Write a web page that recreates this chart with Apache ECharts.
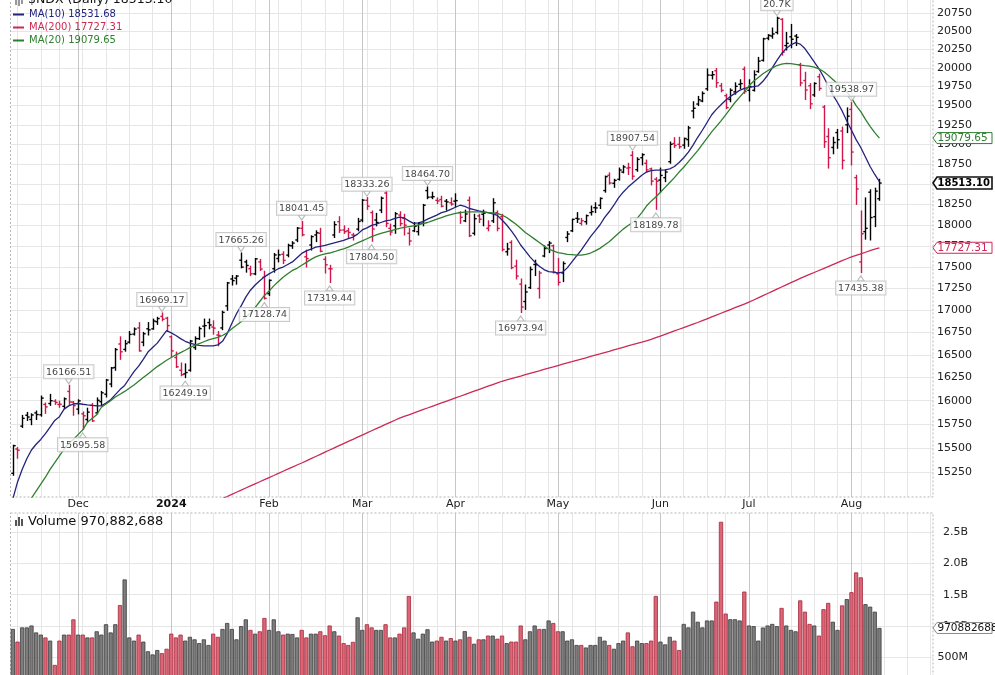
<!DOCTYPE html>
<html>
<head>
<meta charset="utf-8">
<title>$NDX (Daily)</title>
<script src="https://cdn.jsdelivr.net/npm/echarts@6.0.0/dist/echarts.min.js"></script>
<style>
html,body{margin:0;padding:0;background:#ffffff;}
#chart{width:995px;height:675px;}
</style>
</head>
<body>
<div id="chart"></div>
<script>
// ---------------- DATA ----------------
// Trading days shown on the axis (the last 11 August slots are empty space on the right)
const tradingDays = [
  ['2023-11', [10,13,14,15,16,17,20,21,22,24,27,28,29,30]],
  ['2023-12', [1,4,5,6,7,8,11,12,13,14,15,18,19,20,21,22,26,27,28,29]],
  ['2024-01', [2,3,4,5,8,9,10,11,12,16,17,18,19,22,23,24,25,26,29,30,31]],
  ['2024-02', [1,2,5,6,7,8,9,12,13,14,15,16,20,21,22,23,26,27,28,29]],
  ['2024-03', [1,4,5,6,7,8,11,12,13,14,15,18,19,20,21,22,25,26,27,28]],
  ['2024-04', [1,2,3,4,5,8,9,10,11,12,15,16,17,18,19,22,23,24,25,26,29,30]],
  ['2024-05', [1,2,3,6,7,8,9,10,13,14,15,16,17,20,21,22,23,24,28,29,30,31]],
  ['2024-06', [3,4,5,6,7,10,11,12,13,14,17,18,20,21,24,25,26,27,28]],
  ['2024-07', [1,2,3,5,8,9,10,11,12,15,16,17,18,19,22,23,24,25,26,29,30,31]],
  ['2024-08', [1,2,5,6,7,8,9,12,13,14,15,16,19,20,21,22,23,26]]
];

const openPrices = [
  15240,15490,15730,15845,15800,15870,15850,15960,15970,15995,15960,15940,16100,15985,
  15910,15860,15800,15950,15870,15990,16070,16180,16360,16620,16560,16640,16730,16800,16640,16790,16790,16870,16930,16910,
  16700,16470,16330,16290,16330,16580,16680,16820,16860,16810,16720,16800,17050,17360,17370,17580,17560,17480,17420,17560,17380,
  17190,17480,17600,17650,17640,17750,17820,17960,17620,17760,17880,17900,17590,17480,17880,18040,17940,17930,17880,17950,
  18060,18300,18150,18060,18180,18390,17960,17990,18120,18080,17900,17930,17920,18020,18420,18340,18300,18310,18290,18270,
  18290,18150,18050,18300,17900,18110,18130,17960,18050,18150,18100,17680,17790,17510,17300,17100,17260,17530,17250,17630,17760,17750,
  17420,17430,17850,17930,18080,18020,18040,18150,18210,18240,18420,18610,18510,18560,18650,18700,18860,18680,18830,18760,18690,18560,
  18550,18580,18780,19010,19000,18990,19060,19430,19520,19560,19720,19900,19960,19760,19630,19580,19680,19780,19980,
  19700,19700,19950,20100,20400,20430,20480,20660,20300,20420,20430,20040,19830,19760,19640,19880,19480,19100,18960,19150,19170,19250,
  19450,18580,17560,17920,18400,18100,18320
];
const highPrices = [
  15530,15505,15843,15875,15860,15890,16050,15975,16068,16010,15995,16030,16166.51,15990,
  16010,15880,15920,15970,16030,16100,16230,16360,16570,16700,16660,16760,16800,16860,16750,16860,16900,16920,16969.17,16920,
  16710,16530,16410,16400,16660,16700,16810,16900,16900,16880,16760,16990,17320,17400,17400,17665.26,17580,17510,17600,17590,17450,
  17350,17660,17700,17680,17770,17800,17970,18041.45,17700,17870,17930,17960,17620,17520,18040,18100,17990,17960,17900,18080,
  18310,18333.26,18170,18140,18340,18416,18010,18150,18160,18130,17960,18030,18030,18250,18464.70,18400,18330,18350,18310,18330,
  18380,18160,18180,18340,18130,18130,18180,18050,18320,18170,18130,17780,17810,17580,17360,17290,17500,17580,17450,17750,17800,17760,
  17600,17560,17920,18070,18150,18080,18120,18230,18270,18330,18600,18640,18560,18700,18730,18760,18907.54,18830,18880,18800,18700,18580,
  18700,18680,19030,19085,19090,19080,19230,19550,19620,19680,19985,19950,19990,19790,19650,19720,19800,19840,20010,
  19840,19960,20140,20400,20450,20540,20690.97,20670,20480,20590,20450,20060,19940,19790,19800,19915,19500,19200,19090,19190,19220,19470,
  19538.97,18610,18170,18330,18430,18450,18560
];
const lowPrices = [
  15220,15395,15716,15790,15745,15800,15835,15865,15950,15960,15930,15915,15950,15845,
  15860,15695.58,15770,15780,15860,15950,16040,16150,16330,16450,16540,16630,16720,16540,16600,16720,16785,16840,16880,16760,
  16480,16360,16270,16249.19,16320,16560,16670,16700,16790,16730,16600,16780,17000,17290,17300,17490,17440,17400,17410,17460,17128.74,
  17170,17440,17560,17540,17620,17720,17800,17870,17500,17700,17800,17680,17430,17319.44,17850,17910,17900,17850,17820,17930,
  18040,18190,17804.50,17990,18150,17980,17880,17900,17990,17880,17760,17920,17880,17990,18320,18320,18260,18220,18180,18240,
  18220,18020,18040,17860,17880,18030,17990,17930,18030,17930,17690,17640,17480,17360,16973.94,17010,17250,17400,17140,17620,17670,17430,
  17290,17330,17800,17920,18030,18000,18010,18120,18150,18200,18400,18500,18460,18550,18640,18620,18560,18660,18740,18650,18490,18189.78,
  18400,18530,18760,18960,18950,18950,18975,19340,19500,19550,19700,19850,19740,19680,19460,19550,19650,19720,19660,
  19560,19690,19940,20090,20380,20400,20460,20170,20240,20270,20300,19760,19580,19460,19620,19700,18960,18700,18880,18950,18690,19150,
  18740,18250,17435.38,17830,17820,17980,18300
];
const closePrices = [
  15525,15478,15812,15826,15848,15852,16028,15934,16000,15982,15962,16020,15987,15947,
  15998,15839,15878,15785,16004,16085,16223,16355,16558,16533,16623,16727,16787,16543,16734,16778,16878,16906,16898,16826,
  16543,16368,16282,16305,16652,16680,16792,16826,16833,16798,16715,16976,17314,17341,17394,17499,17518,17421,17596,17476,17137,
  17344,17642,17643,17578,17755,17783,17962,17882,17600,17860,17906,17685,17526,17478,18004,17937,17920,17910,17874,18043,
  18302,18228,17951,18030,18326,18019,17916,18136,18017,17998,17808,17985,18022,18240,18339,18345,18292,18228,18280,18254,
  18296,18093,18133,17871,18076,18070,18144,17992,18270,17959,17707,17713,17493,17394,17037,17210,17471,17526,17430,17718,17783,17440,
  17321,17541,17891,18068,18073,18052,18113,18161,18207,18323,18593,18514,18546,18675,18714,18705,18598,18809,18869,18677,18537,18536,
  18608,18650,19000,18985,18970,19074,19210,19465,19576,19659,19903,19908,19800,19700,19473,19701,19753,19789,19683,
  19750,19908,20090,20392,20439,20459,20675,20211,20331,20386,20412,19798,19705,19523,19791,19725,19033,18830,19023,19059,18796,19362,
  18902,18440,17895,17960,18090,18413,18513.10
];
const ma10 = [
  14980,15150,15280,15390,15480,15540,15590,15650,15720,15790,15830,15910,15945,15965,
  15970,15962,15955,15950,15946,15945,15975,16010,16065,16120,16165,16240,16315,16375,16450,16530,16580,16630,16700,16770,
  16745,16715,16680,16650,16630,16615,16605,16600,16598,16600,16610,16650,16735,16850,16960,17050,17150,17230,17290,17340,17385,
  17420,17450,17480,17500,17530,17560,17610,17660,17690,17710,17735,17745,17755,17770,17785,17800,17815,17835,17855,17890,
  17940,17965,17995,18010,18030,18050,18060,18080,18095,18085,18050,18020,18025,18040,18070,18095,18120,18150,18165,18190,
  18215,18240,18225,18200,18185,18170,18160,18150,18135,18115,18060,18000,17930,17850,17760,17690,17620,17560,17510,17470,17445,17440,
  17430,17440,17490,17560,17630,17700,17780,17860,17930,18000,18090,18160,18240,18330,18400,18460,18510,18560,18610,18650,18668,18673,
  18673,18678,18690,18720,18770,18830,18900,18990,19090,19180,19280,19380,19450,19510,19570,19620,19660,19700,19725,
  19740,19750,19760,19820,19900,20000,20100,20190,20260,20310,20340,20320,20260,20170,20080,19990,19880,19760,19640,19540,19430,19300,
  19180,19060,18960,18840,18720,18620,18531.68
];
const ma20 = [
  14720,14780,14850,14920,14990,15060,15130,15200,15280,15350,15420,15490,15550,15590,
  15640,15690,15770,15810,15850,15930,15965,16000,16040,16070,16100,16135,16170,16210,16250,16290,16330,16370,16405,16440,
  16470,16500,16525,16550,16580,16605,16625,16645,16665,16680,16695,16715,16745,16790,16830,16870,16920,16970,17030,17100,17170,
  17220,17280,17330,17380,17420,17460,17485,17520,17555,17590,17620,17640,17655,17665,17680,17700,17715,17735,17760,17785,
  17810,17835,17860,17880,17900,17915,17930,17945,17960,17970,17980,17990,18000,18015,18030,18050,18070,18090,18110,18125,
  18140,18150,18155,18160,18160,18160,18155,18150,18145,18140,18120,18090,18050,18010,17960,17910,17870,17830,17790,17750,17710,17690,
  17670,17660,17650,17645,17640,17640,17650,17665,17690,17720,17760,17800,17850,17900,17950,17990,18030,18080,18150,18230,18290,18340,
  18400,18460,18520,18580,18650,18710,18780,18850,18920,19000,19080,19160,19230,19300,19380,19460,19540,19610,19680,
  19760,19820,19870,19920,19960,19995,20030,20050,20060,20055,20045,20035,20028,20022,20010,19985,19950,19900,19845,19790,19730,19680,
  19600,19500,19420,19320,19230,19150,19079.65
];
const ma200 = [
  14040,14062,14081,14104,14123,14146,14166,14188,14207,14230,14250,14270,14293,14312,
  14335,14354,14377,14397,14419,14438,14461,14481,14503,14522,14545,14565,14586,14608,14627,14650,14670,14691,14713,14733,
  14755,14774,14797,14817,14839,14858,14881,14900,14922,14943,14964,14985,15005,15027,15048,15069,15091,15112,15133,15154,15176,
  15197,15218,15240,15261,15282,15304,15325,15346,15368,15391,15413,15435,15458,15480,15502,15525,15547,15569,15591,15614,
  15636,15658,15681,15703,15725,15748,15770,15792,15814,15832,15850,15868,15886,15904,15922,15940,15958,15976,15994,16012,
  16030,16048,16066,16084,16102,16120,16138,16156,16174,16192,16210,16224,16239,16253,16267,16282,16296,16310,16324,16339,16353,16367,
  16382,16396,16410,16424,16439,16453,16467,16482,16496,16510,16525,16539,16554,16568,16583,16598,16612,16627,16641,16656,16671,16690,
  16709,16728,16747,16766,16785,16804,16823,16842,16861,16882,16903,16924,16945,16966,16987,17008,17029,17050,17071,
  17092,17117,17142,17167,17192,17217,17242,17267,17292,17317,17342,17367,17390,17413,17436,17459,17482,17505,17528,17551,17574,17597,
  17620,17638,17656,17674,17692,17710,17727.31
];
// Volume in millions of shares
const volumeMillions = [
  955,754,980,980,1010,900,865,820,770,383,770,865,865,1108,
  865,865,820,820,918,865,1030,900,1030,1336,1743,820,770,865,754,600,550,620,570,640,
  880,820,865,770,830,790,730,790,700,880,830,955,1050,955,790,1000,1108,940,880,918,1130,
  940,1108,918,865,880,875,820,940,820,880,880,918,855,1010,918,850,730,700,750,1140,
  940,1030,980,940,940,1030,820,820,880,980,1480,900,800,880,950,754,770,830,770,810,
  770,790,920,830,720,790,790,850,850,800,850,730,754,754,1010,790,918,1010,955,955,1090,1050,
  918,918,770,790,700,700,660,700,700,830,770,700,640,730,770,900,680,770,730,730,770,1480,
  754,710,830,770,620,1035,980,1230,1070,980,1090,1090,1390,2660,1200,1110,1110,1090,1550,
  1010,1000,770,978,1010,1035,1000,1290,1010,940,918,1410,1230,1035,1010,850,1270,1370,1070,940,1330,1430,
  1540,1855,1776,1350,1310,1230,970.882688
];
// Swing-point annotations: [bar index, price, text, side]
const annotations = [
  [12, 16166.51, '16166.51', 'top'],
  [15, 15695.58, '15695.58', 'bottom'],
  [32, 16969.17, '16969.17', 'top'],
  [37, 16249.19, '16249.19', 'bottom'],
  [49, 17665.26, '17665.26', 'top'],
  [54, 17128.74, '17128.74', 'bottom'],
  [62, 18041.45, '18041.45', 'top'],
  [68, 17319.44, '17319.44', 'bottom'],
  [76, 18333.26, '18333.26', 'top'],
  [77, 17804.50, '17804.50', 'bottom'],
  [89, 18464.70, '18464.70', 'top'],
  [109, 16973.94, '16973.94', 'bottom'],
  [133, 18907.54, '18907.54', 'top'],
  [138, 18189.78, '18189.78', 'bottom'],
  [164, 20690.97, '20.7K', 'top'],
  [180, 19538.97, '19538.97', 'top'],
  [182, 17435.38, '17435.38', 'bottom']
];
const priceTicks = [15250,15500,15750,16000,16250,16500,16750,17000,17250,17500,17750,18000,18250,18500,18750,19000,19250,19500,19750,20000,20250,20500,20750];
const volumeTicks = [0,500000000,1000000000,1500000000,2000000000,2500000000];
const volumeLabelTicks = [500000000,1000000000,1500000000,2000000000,2500000000];
const monthNames = ['Jan','Feb','Mar','Apr','May','Jun','Jul','Aug','Sep','Oct','Nov','Dec'];

// ---------------- BUILD ----------------
const FONT = 'DejaVu Sans';
const UP_COLOR = '#000000';
const DOWN_COLOR = '#d0164a';
const MA10_COLOR = '#23237e';
const MA20_COLOR = '#2f7f2f';
const MA200_COLOR = '#cc2a55';
const PLOT_RIGHT = 933;

const dates = [];
tradingDays.forEach(function (m) {
  m[1].forEach(function (d) { dates.push(m[0] + '-' + (d < 10 ? '0' + d : '' + d)); });
});
function dayNum(s) { return Date.UTC(+s.slice(0, 4), +s.slice(5, 7) - 1, +s.slice(8, 10)) / 86400000; }
function dow(s) { return new Date(Date.UTC(+s.slice(0, 4), +s.slice(5, 7) - 1, +s.slice(8, 10))).getUTCDay(); }
const monthStart = dates.map(function (d, i) { return i > 0 && d.slice(5, 7) !== dates[i - 1].slice(5, 7); });
const weekStart = dates.map(function (d, i) {
  return i > 0 && (dow(d) <= dow(dates[i - 1]) || dayNum(d) - dayNum(dates[i - 1]) >= 7);
});

const N = closePrices.length;
const isUp = closePrices.map(function (c, i) { return i === 0 ? c >= openPrices[0] : c >= closePrices[i - 1]; });
const ohlcData = closePrices.map(function (c, i) {
  return [i, openPrices[i], highPrices[i], lowPrices[i], c, isUp[i] ? 1 : 0];
});
const volumeData = volumeMillions.map(function (v, i) {
  return {
    value: v * 1e6,
    itemStyle: isUp[i]
      ? { color: '#7d7d7d', borderColor: '#3c3c3c', borderWidth: 0.8 }
      : { color: '#dd6676', borderColor: '#a3283c', borderWidth: 0.8 }
  };
});

function renderOHLC(params, api) {
  const i = api.value(0);
  const pH = api.coord([i, api.value(2)]);
  const pL = api.coord([i, api.value(3)]);
  const pO = api.coord([i, api.value(1)]);
  const pC = api.coord([i, api.value(4)]);
  const color = api.value(5) ? UP_COLOR : DOWN_COLOR;
  const x = Math.round(pH[0]) + 0.5;
  const t = 2.2;
  const style = { stroke: color, lineWidth: 1.4 };
  return {
    type: 'group',
    children: [
      { type: 'line', shape: { x1: x, y1: pH[1] - 0.5, x2: x, y2: pL[1] + 0.5 }, style: style },
      { type: 'line', shape: { x1: x - t, y1: pO[1], x2: x, y2: pO[1] }, style: style },
      { type: 'line', shape: { x1: x, y1: pC[1], x2: x + t, y2: pC[1] }, style: style }
    ]
  };
}

const weeklySplit = { show: true, alignWithLabel: true, interval: function (i) { return weekStart[i] && !monthStart[i]; }, lineStyle: { color: '#e6e6e6', width: 1 } };
const monthlySplit = { show: true, alignWithLabel: true, interval: function (i) { return monthStart[i]; }, lineStyle: { color: '#c6c6c6', width: 1 } };

function catAxis(gridIndex, position, labels, split) {
  return {
    type: 'category', data: dates, gridIndex: gridIndex, position: position, boundaryGap: true,
    axisLine: { show: false }, axisTick: { show: false },
    axisLabel: labels ? {
      show: true, interval: function (i) { return monthStart[i]; }, margin: 2,
      color: '#222', fontSize: 11, fontFamily: FONT,
      formatter: function (v) { const m = +v.slice(5, 7); return m === 1 ? '{y|' + v.slice(0, 4) + '}' : monthNames[m - 1]; },
      rich: { y: { fontWeight: 'bold', fontSize: 11, color: '#111', fontFamily: FONT } }
    } : { show: false },
    splitLine: split
  };
}

const boxLabel = {
  show: true, distance: 0, backgroundColor: '#ffffff', borderColor: '#bdbdbd', borderWidth: 1,
  padding: [2, 2, 1, 2], color: '#111', fontSize: 9.5, fontFamily: FONT
};
const annTop = annotations.filter(function (a) { return a[3] === 'top'; });
const annBottom = annotations.filter(function (a) { return a[3] === 'bottom'; });

const lastMA = { 'MA(10)': ma10[N - 1].toFixed(2), 'MA(200)': ma200[N - 1].toFixed(2), 'MA(20)': ma20[N - 1].toFixed(2) };

const baseGraphic = [
  { type: 'rect', silent: true, z: 1, shape: { x: 10.5, y: -5, width: 922.5, height: 502 },
    style: { fill: 'none', stroke: '#b5b5b5', lineWidth: 1, lineDash: [2, 2] } },
  { type: 'rect', silent: true, z: 1, shape: { x: 10.5, y: 513, width: 922.5, height: 176 },
    style: { fill: 'none', stroke: '#b5b5b5', lineWidth: 1, lineDash: [2, 2] } },
  { type: 'text', silent: true, z: 10, x: 28, y: 0,
    style: { text: '$NDX (Daily) 18513.10', font: '12.5px DejaVu Sans', fill: '#111111', verticalAlign: 'middle' } },
  { type: 'line', silent: true, z: 10, shape: { x1: 16, y1: -3, x2: 16, y2: 5 }, style: { stroke: '#333', lineWidth: 1 } },
  { type: 'line', silent: true, z: 10, shape: { x1: 19, y1: -3, x2: 19, y2: 6 }, style: { stroke: '#333', lineWidth: 1 } },
  { type: 'line', silent: true, z: 10, shape: { x1: 22, y1: -3, x2: 22, y2: 4 }, style: { stroke: '#333', lineWidth: 1 } },
  { type: 'text', silent: true, z: 10, x: 28, y: 521.5,
    style: { text: 'Volume 970,882,688', font: '13px DejaVu Sans', fill: '#111111', verticalAlign: 'middle' } },
  { type: 'rect', silent: true, z: 10, shape: { x: 15, y: 520, width: 2, height: 6 }, style: { fill: '#555' } },
  { type: 'rect', silent: true, z: 10, shape: { x: 18, y: 517, width: 2, height: 9 }, style: { fill: '#555' } },
  { type: 'rect', silent: true, z: 10, shape: { x: 21, y: 519, width: 2, height: 7 }, style: { fill: '#555' } }
];

const option = {
  animation: false,
  backgroundColor: '#ffffff',
  textStyle: { fontFamily: FONT },
  grid: [
    { left: 10.5, right: 62, top: -5, height: 502, containLabel: false, outerBoundsMode: 'none', show: false },
    { left: 10.5, right: 62, top: 513, height: 176, containLabel: false, outerBoundsMode: 'none', show: false }
  ],
  legend: {
    orient: 'vertical', left: 13, top: 9, padding: 0, itemWidth: 11, itemHeight: 2, itemGap: 2, icon: 'rect',
    selectedMode: false,
    data: [
      { name: 'MA(10)', textStyle: { color: MA10_COLOR } },
      { name: 'MA(200)', textStyle: { color: MA200_COLOR } },
      { name: 'MA(20)', textStyle: { color: MA20_COLOR } }
    ],
    formatter: function (name) { return name + ' ' + lastMA[name]; },
    textStyle: { fontSize: 10, fontFamily: FONT, lineHeight: 11 }
  },
  xAxis: [
    catAxis(0, 'bottom', true, weeklySplit),
    catAxis(0, 'top', false, monthlySplit),
    catAxis(1, 'bottom', false, weeklySplit),
    catAxis(1, 'top', false, monthlySplit)
  ],
  yAxis: [
    {
      type: 'log', logBase: 10, gridIndex: 0, min: 15000, max: 21000, position: 'right',
      axisLine: { show: false },
      axisTick: { show: false, customValues: priceTicks },
      axisLabel: { customValues: priceTicks, margin: 4, color: '#222', fontSize: 11, fontFamily: FONT,
        formatter: function (v) { return String(Math.round(v)); } },
      splitLine: { show: true, lineStyle: { color: '#e6e6e6', width: 1 } }
    },
    {
      type: 'value', gridIndex: 1, min: 0, max: 2800000000, position: 'right',
      axisLine: { show: false },
      axisTick: { show: false, customValues: volumeTicks },
      axisLabel: { customValues: volumeLabelTicks, margin: 35, align: 'right', color: '#222', fontSize: 11, fontFamily: FONT,
        formatter: function (v) { return v >= 1e9 ? (v / 1e9).toFixed(1) + 'B' : Math.round(v / 1e6) + 'M'; } },
      splitLine: { show: true, lineStyle: { color: '#e6e6e6', width: 1 } }
    }
  ],
  series: [
    {
      name: '$NDX', type: 'custom', xAxisIndex: 0, yAxisIndex: 0, data: ohlcData,
      encode: { x: 0, y: [1, 2, 3, 4] }, renderItem: renderOHLC, clip: true, z: 3, silent: true
    },
    {
      name: 'MA(10)', type: 'line', xAxisIndex: 0, yAxisIndex: 0, data: ma10, symbol: 'none', silent: true, z: 4,
      lineStyle: { color: MA10_COLOR, width: 1.3 }, itemStyle: { color: MA10_COLOR }
    },
    {
      name: 'MA(200)', type: 'line', xAxisIndex: 0, yAxisIndex: 0, data: ma200, symbol: 'none', silent: true, z: 4,
      lineStyle: { color: MA200_COLOR, width: 1.3 }, itemStyle: { color: MA200_COLOR }
    },
    {
      name: 'MA(20)', type: 'line', xAxisIndex: 0, yAxisIndex: 0, data: ma20, symbol: 'none', silent: true, z: 4,
      lineStyle: { color: MA20_COLOR, width: 1.3 }, itemStyle: { color: MA20_COLOR }
    },
    {
      name: 'annTop', type: 'scatter', xAxisIndex: 0, yAxisIndex: 0, silent: true, z: 6,
      data: annTop.map(function (a) { return { value: [a[0], a[1]], label: { formatter: a[2] } }; }),
      symbol: 'triangle', symbolRotate: 180, symbolSize: [7, 5], symbolOffset: [0, -4],
      itemStyle: { color: '#ffffff', borderColor: '#a8a8a8', borderWidth: 1 },
      label: Object.assign({ position: 'top' }, boxLabel)
    },
    {
      name: 'annBottom', type: 'scatter', xAxisIndex: 0, yAxisIndex: 0, silent: true, z: 6,
      data: annBottom.map(function (a) { return { value: [a[0], a[1]], label: { formatter: a[2] } }; }),
      symbol: 'triangle', symbolSize: [7, 5], symbolOffset: [0, 6],
      itemStyle: { color: '#ffffff', borderColor: '#a8a8a8', borderWidth: 1 },
      label: Object.assign({ position: 'bottom' }, boxLabel)
    },
    {
      name: 'Volume', type: 'bar', xAxisIndex: 2, yAxisIndex: 1, data: volumeData, barWidth: 4.2, silent: true, z: 3
    }
  ],
  graphic: baseGraphic
};

const chart = echarts.init(document.getElementById('chart'), null, { renderer: 'canvas', width: 995, height: 675 });
chart.setOption(option);

// Value tags on the right edge, positioned through the axes' own scales
function tagElements(y, text, color, border, bold, borderWidth) {
  const h = bold ? 6 : 5.5;
  return [
    { type: 'polygon', silent: true, z: 20,
      shape: { points: [[PLOT_RIGHT, y], [PLOT_RIGHT + 4, y - h], [PLOT_RIGHT + 59, y - h], [PLOT_RIGHT + 59, y + h], [PLOT_RIGHT + 4, y + h]] },
      style: { fill: '#ffffff', stroke: border, lineWidth: borderWidth } },
    { type: 'text', silent: true, z: 21, x: PLOT_RIGHT + 4.5, y: y + 0.5,
      style: { text: text, font: (bold ? 'bold 10px ' : '10.5px ') + FONT, fill: color, verticalAlign: 'middle' } }
  ];
}
const lastClose = closePrices[N - 1];
const lastVolume = volumeMillions[N - 1] * 1e6;
const tags = []
  .concat(tagElements(chart.convertToPixel({ yAxisIndex: 0 }, ma20[N - 1]), ma20[N - 1].toFixed(2), MA20_COLOR, MA20_COLOR, false, 1))
  .concat(tagElements(chart.convertToPixel({ yAxisIndex: 0 }, ma200[N - 1]), ma200[N - 1].toFixed(2), MA200_COLOR, MA200_COLOR, false, 1))
  .concat(tagElements(chart.convertToPixel({ yAxisIndex: 0 }, lastClose), lastClose.toFixed(2), '#000000', '#111111', true, 1.6))
  .concat(tagElements(chart.convertToPixel({ yAxisIndex: 1 }, lastVolume), String(Math.round(lastVolume)), '#111111', '#8a8a8a', false, 1));
chart.setOption({ graphic: baseGraphic.concat(tags) });
</script>
</body>
</html>
